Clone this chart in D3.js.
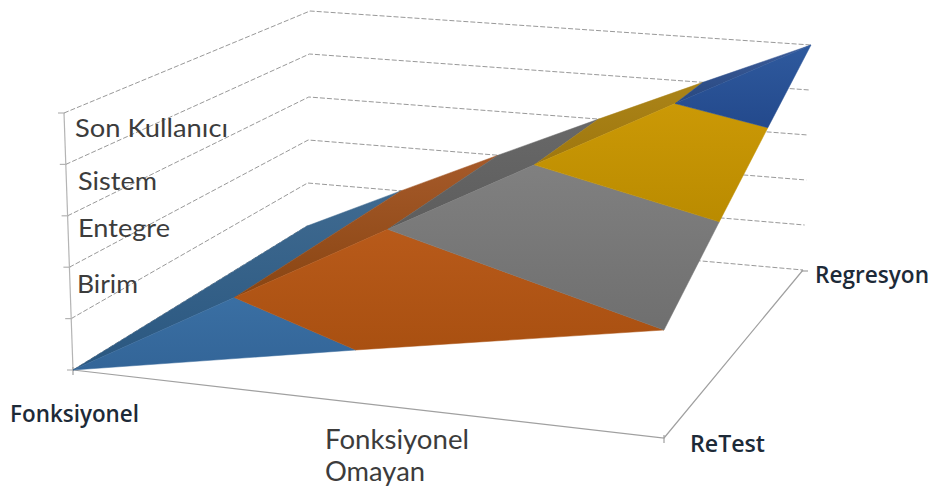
<!DOCTYPE html>
<html>
<head>
<meta charset="utf-8">
<script src="https://cdn.jsdelivr.net/npm/d3@7/dist/d3.min.js"></script>
<style>
html,body{margin:0;padding:0;background:#fff;}
svg{display:block;}
text{font-family:Lato,"Open Sans",sans-serif;}
text.strong{font-family:"Open Sans",Lato,sans-serif;}
</style>
</head>
<body>
<svg id="chart" width="931" height="487"></svg>
<script>
// Test types along the width of the box, test kinds along its depth
const widthCategories = ["Fonksiyonel", "Fonksiyonel Omayan"];
const depthCategories = ["ReTest", "Regresyon"];

// Surface height per depth category, one value per width category
const retestValues = [0, 2];
const regresyonValues = [0, 5];

// Height axis: five intervals, four of them named
const heightTicks = [0, 1, 2, 3, 4, 5];
const bandColors = [
  ["#3a6fa3", "#336598"],
  ["#b85a1a", "#a95011"],
  ["#808080", "#6f6f6f"],
  ["#cb9906", "#ba8b00"],
  ["#2f5a9e", "#23498c"]
];
const backBandColors = [
  ["#3f6a90", "#2a5780"],
  ["#a65a2a", "#894512"],
  ["#686868", "#5d5d5d"],
  ["#ab8418", "#9f770e"],
  ["#3c5c9a", "#284880"]
];

// Axis labels: text, left edge, baseline, width on the page, size, weight, colour
const labelRows = [
  ["Son Kullanıcı", 75, 137, 153, 25, 400, "#3c3c3c"],
  ["Sistem", 78, 190, 79, 25, 400, "#3c3c3c"],
  ["Entegre", 78, 237, 92, 25, 400, "#3c3c3c"],
  ["Birim", 77, 293, 61, 25, 400, "#3c3c3c"],
  ["Fonksiyonel", 10, 422, 129, 23, 600, "#1d2a38"],
  ["Fonksiyonel", 325, 449, 144, 26, 400, "#3c3c3c"],
  ["Omayan", 325, 481, 100, 26, 400, "#3c3c3c"],
  ["ReTest", 690, 452, 75, 23, 600, "#1d2a38"],
  ["Regresyon", 815, 283, 114, 23, 600, "#1d2a38"]
];

// Screen positions of the eight corners of the chart box
const boxFloor = {
  frontLeft: [73, 370], frontRight: [664, 438],
  backLeft: [307, 226], backRight: [803, 270]
};
const boxTop = {
  frontLeft: [64, 113], frontRight: [664, 168],
  backLeft: [310, 11], backRight: [811, 45]
};

const svg = d3.select("#chart");

const widthScale = d3.scalePoint().domain(widthCategories).range([0, 1]);
const depthScale = d3.scalePoint().domain(depthCategories).range([0, 1]);
const heightScale = d3.scaleLinear().domain([0, 5]).range([0, 1]);

// Foreshortening along the two floor directions
const foreshorten = k => t => t / (t + (1 - t) * k);
const warpWidth = foreshorten(1.083);
const warpDepth = foreshorten(0.8);

const mix = (a, b, t) => [a[0] + (b[0] - a[0]) * t, a[1] + (b[1] - a[1]) * t];

// Box coordinates (width, depth, height) to screen coordinates
function project([w, d, h]) {
  const u = warpWidth(w), v = warpDepth(d), z = heightScale(h);
  const onPlane = p => mix(
    mix(p.frontLeft, p.frontRight, u),
    mix(p.backLeft, p.backRight, u), v);
  return mix(onPlane(boxFloor), onPlane(boxTop), z);
}

const line3d = d3.line().x(p => project(p)[0]).y(p => project(p)[1]);

// Grid lines on the side wall and the back wall
const grid = svg.append("g")
  .attr("fill", "none").attr("stroke", "#999")
  .attr("stroke-width", 1).attr("stroke-dasharray", "5 2");
grid.selectAll("path").data(heightTicks).join("path")
  .attr("d", h => line3d([[0, 0, h], [0, 1, h], [1, 1, h]]));

// Height axis with its ticks
const axes = svg.append("g").attr("fill", "none").attr("stroke", "#b4b4b4").attr("stroke-width", 1.2);
axes.append("path").attr("d", line3d([[0, 0, 0], [0, 0, 5]]));
axes.selectAll("path.tick").data(heightTicks).join("path").attr("class", "tick")
  .attr("d", h => {
    const [x, y] = project([0, 0, h]);
    return `M${x - 6},${y}L${x + 1},${y}`;
  });

// Floor edges with their ticks
axes.append("path").attr("stroke", "#a0a0a0")
  .attr("d", line3d([[0, 0, 0], [1, 0, 0], [1, 1, 0]]));
[[0, 0, 0], [1, 0, 0]].forEach(p => {
  const [x, y] = project(p);
  axes.append("path").attr("stroke", "#a0a0a0").attr("d", `M${x},${y - 3}L${x},${y + 5}`);
});
{
  const [x, y] = project([1, 1, 0]);
  axes.append("path").attr("stroke", "#a0a0a0").attr("d", `M${x - 2},${y + 1}L${x + 5},${y + 1}`);
}

// Clips a polygon in box coordinates to one side of a height level
function clipHeight(poly, level, keepAbove) {
  const out = [];
  poly.forEach((p, i) => {
    const q = poly[(i + 1) % poly.length];
    const pIn = keepAbove ? p[2] >= level : p[2] <= level;
    const qIn = keepAbove ? q[2] >= level : q[2] <= level;
    if (pIn) out.push(p);
    if (pIn !== qIn) {
      const t = (level - p[2]) / (q[2] - p[2]);
      out.push(p.map((c, j) => c + (q[j] - c) * t));
    }
  });
  return out;
}

const corner = (wi, di) => [
  widthScale(widthCategories[wi]),
  depthScale(depthCategories[di]),
  (di === 0 ? retestValues : regresyonValues)[wi]
];

const defs = svg.append("defs");
function bandGradient(id, colors) {
  const g = defs.append("linearGradient").attr("id", id)
    .attr("x1", 0).attr("y1", 0).attr("x2", 0).attr("y2", 1);
  g.append("stop").attr("offset", "0%").attr("stop-color", colors[0]);
  g.append("stop").attr("offset", "100%").attr("stop-color", colors[1]);
}
bandColors.forEach((c, i) => bandGradient("front" + i, c));
backBandColors.forEach((c, i) => bandGradient("back" + i, c));

// The surface folds along its diagonal: the far triangle goes first, the near one over it
const facets = [
  { prefix: "back", points: [corner(0, 0), corner(1, 1), corner(0, 1)] },
  { prefix: "front", points: [corner(0, 0), corner(1, 0), corner(1, 1)] }
];

const surface = svg.append("g");
facets.forEach(facet => {
  d3.range(heightTicks.length - 1).forEach(i => {
    const lower = clipHeight(facet.points, heightTicks[i], true);
    const band = clipHeight(lower, heightTicks[i + 1], false);
    if (band.length < 3) return;
    surface.append("path")
      .attr("d", line3d(band) + "Z")
      .attr("fill", `url(#${facet.prefix}${i})`)
      .attr("stroke", `url(#${facet.prefix}${i})`)
      .attr("stroke-width", 0.5);
  });
});

// Axis labels
svg.append("g").selectAll("text").data(labelRows).join("text")
  .attr("class", d => d[5] > 400 ? "strong" : null)
  .attr("x", d => d[1]).attr("y", d => d[2])
  .attr("textLength", d => d[3]).attr("lengthAdjust", "spacingAndGlyphs")
  .attr("font-size", d => d[4]).attr("font-weight", d => d[5])
  .attr("fill", d => d[6])
  .text(d => d[0]);
</script>
</body>
</html>
